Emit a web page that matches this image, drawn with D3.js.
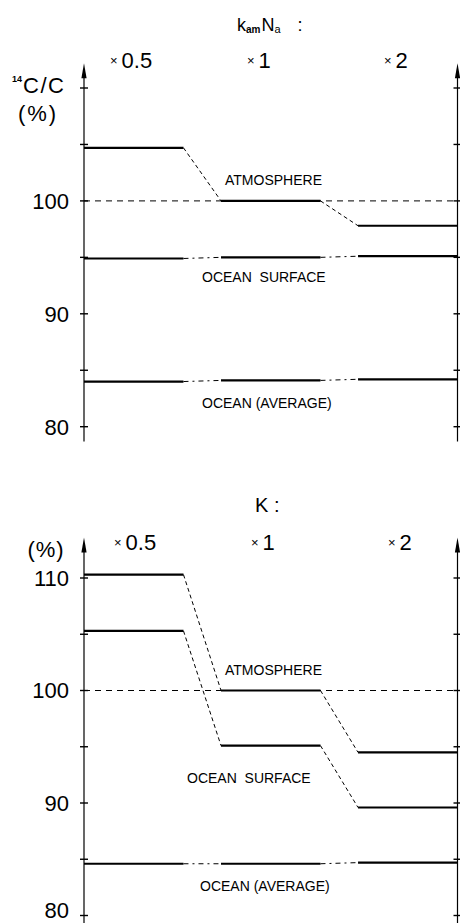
<!DOCTYPE html>
<html>
<head>
<meta charset="utf-8">
<script src="https://cdn.jsdelivr.net/npm/d3@7"></script>
<style>
body { margin: 0; background: #fff; }
text { font-family: "Liberation Sans", Arial, sans-serif; fill: #000; }
</style>
</head>
<body>
<svg width="460" height="923"></svg>
<script>
// factors applied to the parameter (x categories)
var regimes = ["0.5", "1", "2"];
var yTicks = [80, 85, 90, 95, 100, 105, 110];
var topTickLabels = [80, 90, 100];
var bottomTickLabels = [80, 90, 100, 110];

// upper panel: k_am N_a varied
var topAtmosphere = [104.7, 100.0, 97.8];
var topOceanSurface = [94.9, 95.0, 95.1];
var topOceanAverage = [84.0, 84.1, 84.2];

// lower panel: K varied
var bottomAtmosphere = [110.3, 100.0, 94.5];
var bottomOceanSurface = [105.3, 95.1, 89.6];
var bottomOceanAverage = [84.6, 84.6, 84.7];

var svg = d3.select("svg");
var left = 84, right = 457.5;

var x = d3.scaleBand().domain(regimes).range([left, right]).paddingInner(0.274).paddingOuter(0);

function drawPanel(p) {
	var g = svg.append("g");
	var y = d3.scaleLinear().domain([80, 110]).range(p.yRange);

	// reference 100 % line
	g.append("line")
		.attr("x1", left).attr("x2", right)
		.attr("y1", y(100)).attr("y2", y(100))
		.attr("stroke", "#000").attr("stroke-width", 1)
		.attr("stroke-dasharray", "6,5");

	p.series.forEach(function(s) {
		// plateaus
		g.selectAll(null).data(s.values).enter().append("line")
			.attr("x1", function(d, i) { return x(regimes[i]); })
			.attr("x2", function(d, i) { return x(regimes[i]) + x.bandwidth(); })
			.attr("y1", function(d) { return y(d); })
			.attr("y2", function(d) { return y(d); })
			.attr("stroke", "#000").attr("stroke-width", 2.2);
		// transitions between plateaus
		g.selectAll(null).data(s.values.slice(1)).enter().append("line")
			.attr("x1", function(d, i) { return x(regimes[i]) + x.bandwidth(); })
			.attr("x2", function(d, i) { return x(regimes[i + 1]); })
			.attr("y1", function(d, i) { return y(s.values[i]); })
			.attr("y2", function(d) { return y(d); })
			.attr("stroke", "#000").attr("stroke-width", 1)
			.attr("stroke-dasharray", s.dash);
	});

	// left and right axes
	[left, right].forEach(function(ax) {
		g.append("line")
			.attr("x1", ax).attr("x2", ax)
			.attr("y1", y(p.axisTop) + 10).attr("y2", y(p.axisBottom))
			.attr("stroke", "#000").attr("stroke-width", 1.2);
		g.append("path")
			.attr("d", "M" + ax + "," + y(p.axisTop) + " L" + (ax + 2.6) + "," + (y(p.axisTop) + 15) +
				" L" + (ax - 2.6) + "," + (y(p.axisTop) + 15) + "Z")
			.attr("fill", "#000");
		g.selectAll(null).data(yTicks).enter().append("line")
			.attr("x1", ax - 4).attr("x2", ax + 4)
			.attr("y1", function(d) { return y(d); })
			.attr("y2", function(d) { return y(d); })
			.attr("stroke", "#000").attr("stroke-width", 1.4);
	});

	// tick labels through the axis generator (ticks drawn above)
	var axis = g.append("g").attr("transform", "translate(" + left + ",0)")
		.call(d3.axisLeft(y).tickValues(p.tickLabels).tickSize(0).tickPadding(15));
	axis.select(".domain").remove();
	axis.selectAll("text").attr("dy", p.labelDy)
		.style("font-size", "22px").style("font-family", "Liberation Sans, Arial, sans-serif");

	// regime labels
	regimes.forEach(function(r) {
		var t = g.append("text").attr("x", x(r) + p.regimeOffset).attr("y", p.regimeY);
		t.append("tspan").text("×").style("font-size", "13px").attr("dy", -3);
		t.append("tspan").text(r).style("font-size", "22px").attr("dx", 4).attr("dy", 3);
	});

	// curve labels
	p.labels.forEach(function(l) {
		g.append("text").attr("x", l.x).attr("y", y(l.v))
			.style("font-size", "14px").style("white-space", "pre").text(l.text);
	});
	return g;
}

var topG = drawPanel({
	yRange: [426.7, 88],
	axisTop: 112.2, axisBottom: 78.7,
	tickLabels: topTickLabels, labelDy: "0.35em",
	regimeOffset: 26, regimeY: 68,
	series: [
		{ values: topAtmosphere, dash: "4,3" },
		{ values: topOceanSurface, dash: "5,4,2,4" },
		{ values: topOceanAverage, dash: "5,4,2,4" }
	],
	labels: [
		{ text: "ATMOSPHERE", x: 225, v: 101.45 },
		{ text: "OCEAN  SURFACE", x: 202, v: 92.8 },
		{ text: "OCEAN (AVERAGE)", x: 202, v: 81.65 }
	]
});

// the lowest label sits at the page edge: lift it slightly so it is not clipped
var bottomG = drawPanel({
	yRange: [915.5, 578],
	axisTop: 113.6, axisBottom: 79.3,
	tickLabels: bottomTickLabels,
	labelDy: function(d) { return d === 80 ? "0.08em" : "0.33em"; },
	regimeOffset: 30, regimeY: 550,
	series: [
		{ values: bottomAtmosphere, dash: "4,3" },
		{ values: bottomOceanSurface, dash: "4,3" },
		{ values: bottomOceanAverage, dash: "5,4,2,4" }
	],
	labels: [
		{ text: "ATMOSPHERE", x: 225, v: 101.4 },
		{ text: "OCEAN  SURFACE", x: 187, v: 91.8 },
		{ text: "OCEAN (AVERAGE)", x: 200, v: 82.15 }
	]
});

// panel titles
var t1 = svg.append("text").attr("x", 237).attr("y", 31).style("font-size", "18px");
t1.append("tspan").text("k");
t1.append("tspan").text("am").style("font-size", "10px").style("font-weight", "bold").attr("dy", 2);
t1.append("tspan").text("N").attr("dx", 1).attr("dy", -2);
t1.append("tspan").text("a").style("font-size", "11px").attr("dy", 2);
t1.append("tspan").text(":").attr("dx", 17).attr("dy", -2);

svg.append("text").attr("x", 255).attr("y", 512).style("font-size", "20px").text("K :");

// y axis titles
var yl = svg.append("text").attr("x", 12).attr("y", 93).style("font-size", "22px");
yl.append("tspan").text("14").style("font-size", "9px").style("font-weight", "bold").attr("dy", -11);
yl.append("tspan").text("C/C").attr("dx", 1).attr("dy", 11).style("letter-spacing", "1.5px");
svg.append("text").attr("x", 38).attr("y", 121).attr("text-anchor", "middle")
	.style("font-size", "22px").style("letter-spacing", "2px").text("(%)");
svg.append("text").attr("x", 46).attr("y", 557).attr("text-anchor", "middle")
	.style("font-size", "22px").style("letter-spacing", "1px").text("(%)");
</script>
</body>
</html>
